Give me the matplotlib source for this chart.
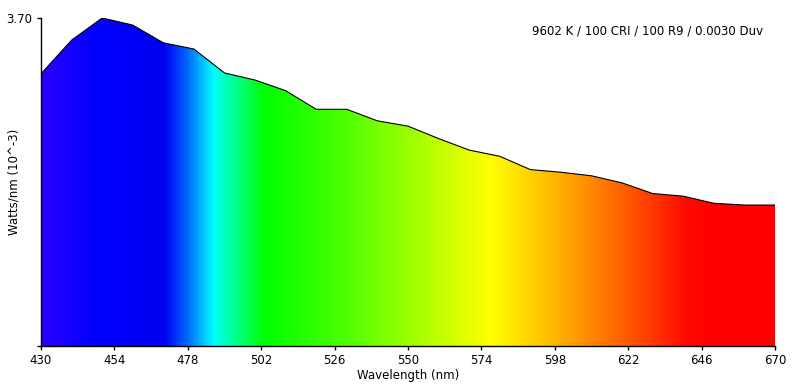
import numpy as np
import matplotlib.pyplot as plt
from matplotlib.colors import LinearSegmentedColormap

# Spectrum values (10 nm steps)
wavelengths = [430, 440, 450, 460, 470, 480, 490, 500, 510, 520, 530, 540, 550,
               560, 570, 580, 590, 600, 610, 620, 630, 640, 650, 660, 670]
watts = [3.07, 3.45, 3.70, 3.62, 3.42, 3.35, 3.08, 3.00, 2.88, 2.67, 2.67, 2.54, 2.48,
         2.34, 2.21, 2.14, 1.99, 1.96, 1.92, 1.84, 1.72, 1.69, 1.61, 1.59, 1.59]
x_ticks = [430, 454, 478, 502, 526, 550, 574, 598, 622, 646, 670]
info = "9602 K / 100 CRI / 100 R9 / 0.0030 Duv"

x_min, x_max = 430, 670
y_max = 3.70

# rainbow stops (wavelength, colour) for the fill
stops = [(430, "#2800ff"), (448, "#0000ff"), (470, "#0000f0"), (477, "#0060ff"),
         (486, "#00ffff"), (494, "#00ff80"), (503, "#00ff00"), (530, "#50ff00"),
         (577, "#ffff00"), (600, "#ffb000"), (622, "#ff5a00"), (642, "#ff0800"),
         (650, "#ff0000"), (670, "#ff0000")]
cmap = LinearSegmentedColormap.from_list(
    "spec", [((w - x_min) / (x_max - x_min), c) for w, c in stops])

fig = plt.figure(figsize=(7.94, 3.90), dpi=100)
ax = fig.add_axes([41 / 794, 44 / 390, 734 / 794, 328 / 390])

poly = ax.fill_between(wavelengths, watts, 0, color="none", lw=0)
grad = np.linspace(0, 1, 600).reshape(1, -1)
img = ax.imshow(grad, cmap=cmap, aspect="auto", extent=[x_min, x_max, 0, y_max],
                interpolation="bilinear", zorder=1)
img.set_clip_path(poly.get_paths()[0], transform=ax.transData)
ax.plot(wavelengths, watts, color="black", lw=0.8, zorder=2)

ax.set_xlim(x_min, x_max)
ax.set_ylim(0, y_max)
ax.set_xticks(x_ticks)
ax.set_xticklabels([str(t) for t in x_ticks])
ax.set_yticks([0, y_max])
ax.set_yticklabels(["", "3.70"])
for s in ["top", "right"]:
    ax.spines[s].set_visible(False)
ax.spines["left"].set_linewidth(1)
ax.spines["bottom"].set_linewidth(1)
ax.tick_params(length=3, width=1, labelsize=8.5, pad=3)

ax.set_xlabel("Wavelength (nm)", fontsize=8.5, labelpad=1)
ax.set_ylabel("Watts/nm (10^-3)", fontsize=8.5)
ax.yaxis.set_label_coords(-0.028, 0.5)
ax.text(0.984, 0.96, info, transform=ax.transAxes, ha="right", va="center",
        fontsize=8.5)

plt.savefig("out.png", dpi=100, facecolor="white")
plt.close()
